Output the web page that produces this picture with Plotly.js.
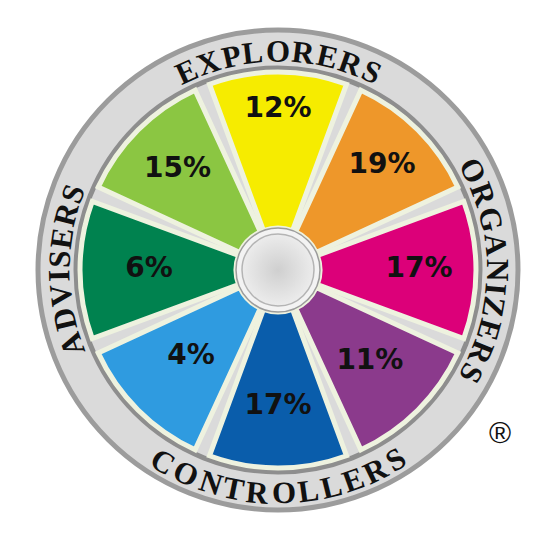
<!DOCTYPE html>
<html><head><meta charset="utf-8">
<script src="https://cdn.plot.ly/plotly-3.0.1.min.js"></script>
<style>html,body{margin:0;padding:0;background:#fff}#chart{width:551px;height:539px}</style>
</head><body><div id="chart"></div>
<script>
// ---------- data ----------
const segments = ['Explorers', 'Explorers / Organizers', 'Organizers', 'Organizers / Controllers',
                  'Controllers', 'Controllers / Advisers', 'Advisers', 'Advisers / Explorers'];
const shares = [12, 19, 17, 11, 17, 4, 6, 15];          // % shown in each segment
const segmentSize = [1, 1, 1, 1, 1, 1, 1, 1];            // all segments are equal in the wheel
const ringLabels = ['EXPLORERS', 'ORGANIZERS', 'CONTROLLERS', 'ADVISERS'];
const ringSegments = ['Explorers', 'Organizers', 'Controllers', 'Advisers'];

// ---------- style / layout ----------
const colors = ['#f6ec00', '#ee972a', '#dc0079', '#8b3a8c', '#0a5dab', '#2f9be0', '#00824f', '#8bc642'];
const W = 551, H = 539;
const CX = 278, CY = 270;            // wheel centre in px
const R_OUT = 240;                    // outer ring radius px
const PX0 = 42, PX1 = 198;           // wedge inner/outer radius px
const unit = PX1 - PX0;
const rMin = -PX0 / unit, rMax = (R_OUT - PX0) / unit;
const toR = px => (px - PX0) / unit;
const labelPx = [160, 147, 141, 130, 137, 123, 129, 142];

const wedges = {
  type: 'barpolar', theta: segments, r: segmentSize, base: 0,
  marker: {color: colors, line: {color: '#eef2df', width: 5}},
  hoverinfo: 'skip', showlegend: false
};
const hubRim = {
  type: 'scatterpolar', mode: 'markers', theta: [segments[0]], r: [rMin],
  marker: {size: 84, color: '#f3f3f3', line: {color: '#9c9c9c', width: 1.5}},
  hoverinfo: 'skip', showlegend: false, cliponaxis: false
};
const hub = {
  type: 'scatterpolar', mode: 'markers', theta: [segments[0]], r: [rMin],
  marker: {size: 72, color: '#ececec', gradient: {type: 'radial', color: '#cfcfcf'},
           line: {color: '#b4b4b4', width: 1.5}},
  hoverinfo: 'skip', showlegend: false, cliponaxis: false
};
const labels = {
  type: 'scatterpolar', mode: 'text', theta: segments, r: labelPx.map(toR),
  text: shares.map(v => v + '%'), textposition: 'middle center',
  textfont: {family: 'DejaVu Sans', size: 28, color: '#111', weight: 'bold'},
  hoverinfo: 'skip', showlegend: false, cliponaxis: false
};

// curved ring captions, one annotation per letter
const annotations = [];
const cvs = document.createElement('canvas').getContext('2d');
const FS = 31;
cvs.font = 'bold ' + FS + 'px "Liberation Serif"';
const TRACK = 1.12;
ringLabels.forEach((word, k) => {
  const idx = segments.indexOf(ringSegments[k]);
  const thetaC = idx * 360 / segments.length;
  const bottom = thetaC > 90 && thetaC < 270;
  const dir = bottom ? -1 : 1;
  const rpx = bottom ? 223 : 219;
  const widths = word.split('').map(ch => cvs.measureText(ch).width * TRACK);
  const total = widths.reduce((a, b) => a + b, 0);
  let acc = 0;
  word.split('').forEach((ch, i) => {
    const s = acc + widths[i] / 2 - total / 2;
    acc += widths[i];
    const th = thetaC + dir * (s / rpx) * 180 / Math.PI;
    const rad = th * Math.PI / 180;
    annotations.push({
      text: ch, showarrow: false, xref: 'paper', yref: 'paper',
      x: (CX + rpx * Math.sin(rad)) / W, y: 1 - (CY - rpx * Math.cos(rad)) / H,
      xanchor: 'center', yanchor: 'middle', textangle: bottom ? th - 180 : th,
      font: {family: 'Liberation Serif', size: FS, color: '#111', weight: 'bold'}
    });
  });
});
annotations.push({text: '®', showarrow: false, xref: 'paper', yref: 'paper',
  x: 500 / W, y: 1 - 432 / H, xanchor: 'center', yanchor: 'middle',
  font: {family: 'Liberation Sans', size: 30, color: '#111'}});

const layout = {
  width: W, height: H, margin: {l: 0, r: 0, t: 0, b: 0},
  paper_bgcolor: '#ffffff', showlegend: false,
  polar: {
    domain: {x: [(CX - R_OUT) / W, (CX + R_OUT) / W], y: [(H - CY - R_OUT) / H, (H - CY + R_OUT) / H]},
    bgcolor: '#dadada',
    radialaxis: {range: [rMin, rMax], showticklabels: false, ticks: '', showline: false,
                 tickvals: [toR(202)], showgrid: true, gridcolor: '#8e8e8e', gridwidth: 5},
    angularaxis: {type: 'category', categoryarray: segments, rotation: 90, direction: 'clockwise',
                  showticklabels: false, ticks: '', showgrid: false,
                  showline: true, linecolor: '#9c9c9c', linewidth: 5}
  },
  annotations: annotations
};
Plotly.newPlot('chart', [wedges, hubRim, hub, labels], layout, {displayModeBar: false, staticPlot: true});
</script></body></html>
